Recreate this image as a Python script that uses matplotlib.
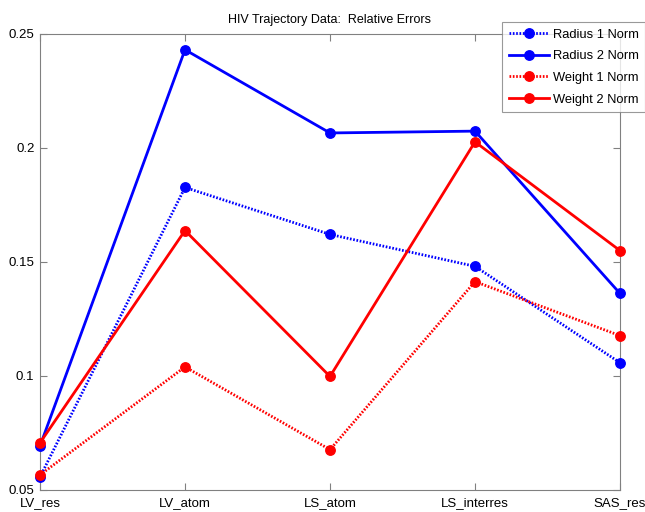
import matplotlib
matplotlib.use("Agg")
import matplotlib.pyplot as plt

categories = ["LV_res", "LV_atom", "LS_atom", "LS_interres", "SAS_res"]
radius1 = [0.0557, 0.1827, 0.1621, 0.1481, 0.1058]
radius2 = [0.0693, 0.2431, 0.2066, 0.2074, 0.1362]
weight1 = [0.0566, 0.1040, 0.0677, 0.1414, 0.1177]
weight2 = [0.0707, 0.1638, 0.0998, 0.2027, 0.1550]
yticks = [0.05, 0.1, 0.15, 0.2, 0.25]
ytick_labels = ["0.05", "0.1", "0.15", "0.2", "0.25"]

plt.rcParams['font.family'] = ['Liberation Sans', 'DejaVu Sans']

fig = plt.figure(figsize=(6.45, 5.12), dpi=100)
ax = fig.add_axes([40/645, 1-490/512, 580/645, 456/512])

x = list(range(len(categories)))
lw = 2.0
ms = 6.8
dotted = (0, (0.6, 0.6))
series = [
    (radius1, '#0000ff', dotted, 'Radius 1 Norm'),
    (radius2, '#0000ff', '-', 'Radius 2 Norm'),
    (weight1, '#ff0000', dotted, 'Weight 1 Norm'),
    (weight2, '#ff0000', '-', 'Weight 2 Norm'),
]
for vals, col, ls, lab in series:
    ax.plot(x, vals, color=col, ls=ls, lw=lw, marker='o', ms=ms, label=lab, clip_on=False, zorder=3)

ax.set_xlim(0, len(categories) - 1)
ax.set_ylim(0.05, 0.25)
ax.set_xticks(x)
ax.set_xticklabels(categories)
ax.set_yticks(yticks)
ax.set_yticklabels(ytick_labels)
ax.tick_params(direction='in', top=True, right=True, length=5, color='#808080',
               labelsize=9.5, labelcolor='black')
ax.tick_params(axis='x', pad=5)
ax.tick_params(axis='y', pad=4)
for s in ax.spines.values():
    s.set_color('#808080')
    s.set_linewidth(0.8)

ax.set_title("HIV Trajectory Data:  Relative Errors", fontsize=9, pad=8)

leg = fig.legend(loc='upper right', bbox_to_anchor=(645/645, 1-22/512), fontsize=9.3,
                 handlelength=3.1, frameon=True, fancybox=False, borderpad=0.5,
                 labelspacing=0.75, handletextpad=0.3, borderaxespad=0)
leg.get_frame().set_edgecolor('#808080')
leg.get_frame().set_linewidth(0.8)

fig.savefig("out.png", dpi=100)
